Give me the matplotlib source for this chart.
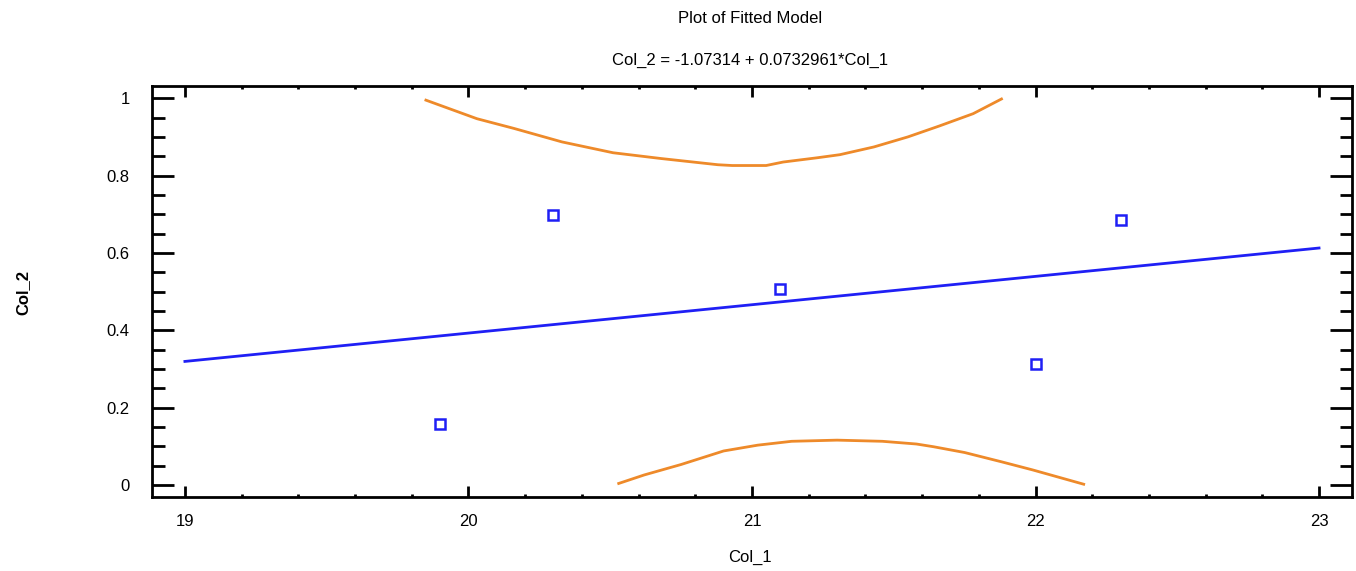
import matplotlib
matplotlib.use("Agg")
import matplotlib.pyplot as plt
from matplotlib.ticker import MultipleLocator

FONT = ["Liberation Sans Narrow", "Liberation Sans", "DejaVu Sans"]
plt.rcParams["font.family"] = FONT

# observed points
obs_x = [19.9, 20.3, 21.1, 22.0, 22.3]
obs_y = [0.157, 0.697, 0.507, 0.313, 0.684]

# fitted line  Col_2 = -1.07314 + 0.0732961*Col_1
fit_x = [19.0, 23.0]
fit_y = [0.3195, 0.6127]

# upper limit curve (clipped at 1)
upper_x = [19.85, 20.03, 20.16, 20.33, 20.51, 20.68, 20.88, 20.93, 21.05,
           21.11, 21.23, 21.31, 21.43, 21.55, 21.66, 21.78, 21.88]
upper_y = [0.995, 0.947, 0.922, 0.887, 0.859, 0.844, 0.828, 0.826, 0.826,
           0.835, 0.846, 0.854, 0.874, 0.900, 0.928, 0.960, 0.998]

# lower limit curve (clipped at 0)
lower_x = [20.53, 20.62, 20.75, 20.90, 21.02, 21.14, 21.30, 21.46, 21.58,
           21.64, 21.75, 21.88, 21.99, 22.17]
lower_y = [0.004, 0.026, 0.053, 0.088, 0.103, 0.113, 0.116, 0.113, 0.106,
           0.099, 0.084, 0.060, 0.039, 0.002]

BLUE = "#1f1ff5"
ORANGE = "#ee8a2a"

fig = plt.figure(figsize=(13.56, 5.71), dpi=100)
ax = fig.add_axes([0.1121, 0.1296, 0.8849, 0.7194])

ax.plot(upper_x, upper_y, color=ORANGE, lw=2)
ax.plot(lower_x, lower_y, color=ORANGE, lw=2)
ax.plot(fit_x, fit_y, color=BLUE, lw=2)
ax.plot(obs_x, obs_y, ls="none", marker="s", ms=7, mfc="white",
        mec=BLUE, mew=1.8)

ax.set_xlim(18.884, 23.116)
ax.set_ylim(-0.031, 1.031)

ax.xaxis.set_major_locator(MultipleLocator(1))
ax.xaxis.set_minor_locator(MultipleLocator(0.2))
ax.yaxis.set_major_locator(MultipleLocator(0.2))
ax.yaxis.set_minor_locator(MultipleLocator(0.05))
ax.set_yticks([0, 0.2, 0.4, 0.6, 0.8, 1.0])
ax.set_yticklabels(["0", "0.2", "0.4", "0.6", "0.8", "1"])

for s in ax.spines.values():
    s.set_linewidth(2)

ax.tick_params(axis="x", which="major", direction="in", length=8, width=2,
               top=True, labelsize=12, pad=12)
ax.tick_params(axis="x", which="minor", direction="in", length=2.5, width=2,
               top=True)
ax.tick_params(axis="y", which="major", direction="in", length=16, width=2,
               right=True, labelsize=12, pad=16)
ax.tick_params(axis="y", which="minor", direction="in", length=9, width=2,
               right=True)

fig.text(0.553, 0.968, "Plot of Fitted Model", ha="center", va="center",
         fontsize=12)
fig.text(0.553, 0.895, "Col_2 = -1.07314 + 0.0732961*Col_1", ha="center",
         va="center", fontsize=12)
fig.text(0.553, 0.023, "Col_1", ha="center", va="center", fontsize=12)
fig.text(0.017, 0.487, "Col_2", ha="center", va="center", rotation=90,
         fontsize=12, fontweight="bold")

fig.savefig("out.png", dpi=100)
